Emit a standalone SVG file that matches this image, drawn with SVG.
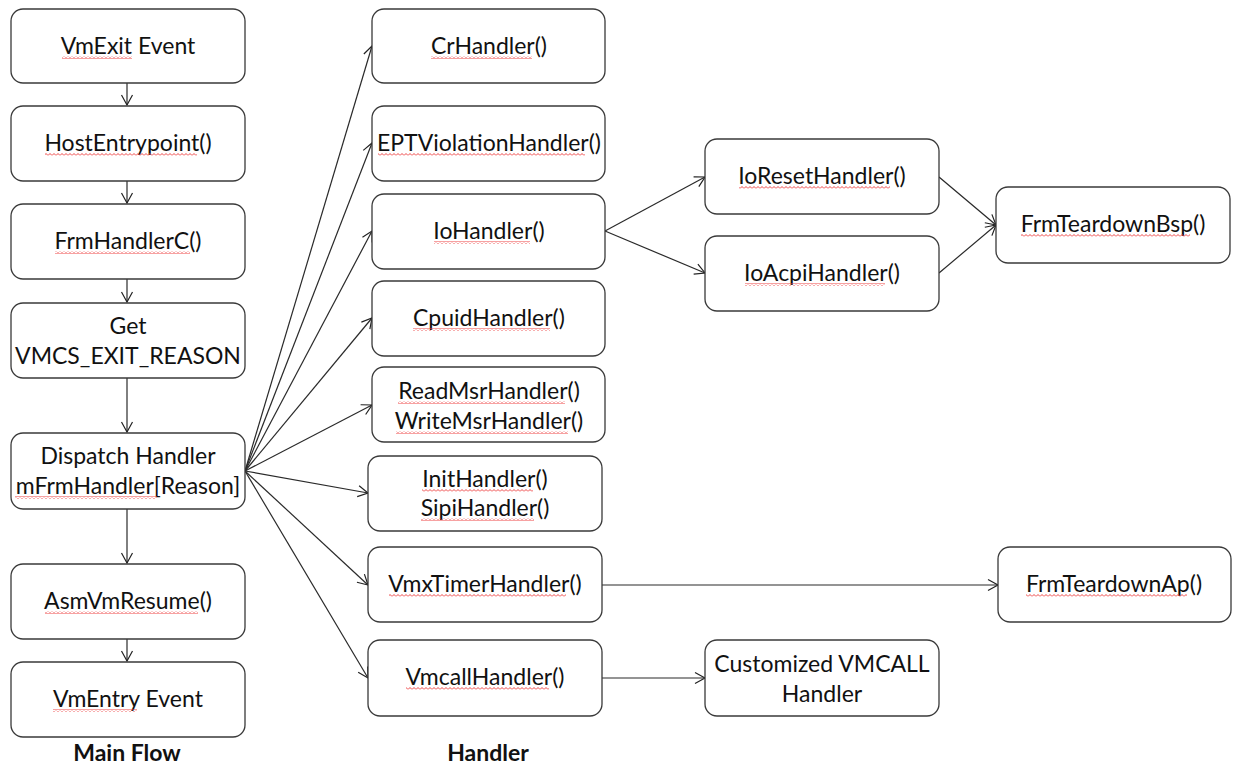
<svg xmlns="http://www.w3.org/2000/svg" width="1233" height="766" viewBox="0 0 1233 766">
<defs>
<marker id="ah" markerWidth="14" markerHeight="14" refX="11" refY="7" orient="auto" markerUnits="userSpaceOnUse">
<path d="M1 1.5 L11 7 L1 12.5" fill="none" stroke="#222" stroke-width="1.2"/>
</marker>
<pattern id="wv" width="4" height="3" patternUnits="userSpaceOnUse">
<path d="M0 2.5 L2 0.5 L4 2.5" fill="none" stroke="#ee4444" stroke-width="1"/>
</pattern>
</defs>
<style>
.box{fill:#fff;stroke:#3a3a3a;stroke-width:1.3}
text{font-family:Lato,"Open Sans","Liberation Sans",sans-serif;font-size:23px;fill:#111;text-anchor:middle}
.t{font-weight:bold;font-size:23px}
.sq{fill:url(#wv)}
.c line{stroke:#2a2a2a;stroke-width:1.2;marker-end:url(#ah)}
</style>
<rect width="1233" height="766" fill="#fff"/>
<g class="c" id="connectors">
<line x1="127" y1="83" x2="127" y2="105"/>
<line x1="127" y1="181" x2="127" y2="203"/>
<line x1="127" y1="279" x2="127" y2="302"/>
<line x1="127" y1="378" x2="127" y2="432"/>
<line x1="127" y1="509" x2="127" y2="563"/>
<line x1="127" y1="639" x2="127" y2="661"/>
<line x1="245" y1="471" x2="372" y2="46"/>
<line x1="245" y1="471" x2="372" y2="143"/>
<line x1="245" y1="471" x2="372" y2="231"/>
<line x1="245" y1="471" x2="372" y2="318"/>
<line x1="245" y1="471" x2="372" y2="405"/>
<line x1="245" y1="471" x2="368" y2="493"/>
<line x1="245" y1="471" x2="368" y2="585"/>
<line x1="245" y1="471" x2="368" y2="678"/>
<line x1="605" y1="231" x2="705" y2="177"/>
<line x1="605" y1="231" x2="705" y2="273"/>
<line x1="939" y1="177" x2="996" y2="225"/>
<line x1="939" y1="273" x2="996" y2="225"/>
<line x1="602" y1="585" x2="998" y2="585"/>
<line x1="602" y1="678" x2="705" y2="678"/>
</g>
<g id="vmexit"><rect class="box" x="11" y="9" width="234" height="74" rx="12"/><text x="128" y="54">VmExit Event</text><rect class="sq" x="62" y="56" width="70" height="3"/></g>
<g id="hostentry"><rect class="box" x="11" y="106" width="234" height="75" rx="12"/><text x="128" y="151">HostEntrypoint()</text><rect class="sq" x="45" y="153" width="152" height="3"/></g>
<g id="frmhandlerc"><rect class="box" x="11" y="204" width="234" height="75" rx="12"/><text x="128" y="249">FrmHandlerC()</text><rect class="sq" x="55" y="251" width="135" height="3"/></g>
<g id="getreason"><rect class="box" x="11" y="303" width="234" height="75" rx="12"/><text x="128" y="334">Get</text><text x="128" y="364">VMCS_EXIT_REASON</text></g>
<g id="dispatch"><rect class="box" x="11" y="433" width="234" height="76" rx="12"/><text x="128" y="464">Dispatch Handler</text><text x="128" y="494">mFrmHandler[Reason]</text><rect class="sq" x="15" y="496" width="142" height="3"/></g>
<g id="asmvmresume"><rect class="box" x="11" y="564" width="234" height="75" rx="12"/><text x="128" y="609">AsmVmResume()</text><rect class="sq" x="45" y="611" width="153" height="3"/></g>
<g id="vmentry"><rect class="box" x="11" y="662" width="234" height="75" rx="12"/><text x="128" y="707">VmEntry Event</text><rect class="sq" x="53" y="709" width="84" height="3"/></g>
<text class="t" x="127" y="761">Main Flow</text>

<g id="cr"><rect class="box" x="372" y="9" width="233" height="74" rx="12"/><text x="489" y="54">CrHandler()</text><rect class="sq" x="431" y="56" width="101" height="3"/></g>
<g id="ept"><rect class="box" x="372" y="106" width="233" height="75" rx="12"/><text x="489" y="151">EPTViolationHandler()</text><rect class="sq" x="378" y="153" width="207" height="3"/></g>
<g id="io"><rect class="box" x="372" y="194" width="233" height="75" rx="12"/><text x="489" y="239">IoHandler()</text><rect class="sq" x="434" y="241" width="96" height="3"/></g>
<g id="cpuid"><rect class="box" x="372" y="281" width="233" height="75" rx="12"/><text x="489" y="326">CpuidHandler()</text><rect class="sq" x="413" y="328" width="137" height="3"/></g>
<g id="msr"><rect class="box" x="372" y="367" width="233" height="75" rx="12"/><text x="489" y="399">ReadMsrHandler()</text><rect class="sq" x="398" y="401" width="167" height="3"/><text x="489" y="429">WriteMsrHandler()</text><rect class="sq" x="396" y="431" width="172" height="3"/></g>
<g id="initsipi"><rect class="box" x="368" y="456" width="234" height="75" rx="12"/><text x="485" y="487">InitHandler()</text><rect class="sq" x="422" y="489" width="111" height="3"/><text x="485" y="516">SipiHandler()</text><rect class="sq" x="421" y="518" width="113" height="3"/></g>
<g id="vmxtimer"><rect class="box" x="368" y="547" width="234" height="75" rx="12"/><text x="485" y="592">VmxTimerHandler()</text><rect class="sq" x="389" y="594" width="177" height="3"/></g>
<g id="vmcall"><rect class="box" x="368" y="640" width="234" height="76" rx="12"/><text x="485" y="685">VmcallHandler()</text><rect class="sq" x="406" y="687" width="143" height="3"/></g>
<text class="t" x="488" y="761">Handler</text>

<g id="ioreset"><rect class="box" x="705" y="139" width="234" height="75" rx="12"/><text x="822" y="184">IoResetHandler()</text><rect class="sq" x="739" y="186" width="151" height="3"/></g>
<g id="ioacpi"><rect class="box" x="705" y="236" width="234" height="75" rx="12"/><text x="822" y="281">IoAcpiHandler()</text><rect class="sq" x="745" y="283" width="140" height="3"/></g>
<g id="custom"><rect class="box" x="705" y="640" width="234" height="76" rx="12"/><text x="822" y="672">Customized VMCALL</text><text x="822" y="702">Handler</text></g>
<g id="teardownbsp"><rect class="box" x="996" y="187" width="234" height="76" rx="12"/><text x="1113" y="232">FrmTeardownBsp()</text><rect class="sq" x="1021" y="234" width="169" height="3"/></g>
<g id="teardownap"><rect class="box" x="998" y="547" width="233" height="75" rx="12"/><text x="1114" y="592">FrmTeardownAp()</text><rect class="sq" x="1026" y="594" width="161" height="3"/></g>
</svg>
